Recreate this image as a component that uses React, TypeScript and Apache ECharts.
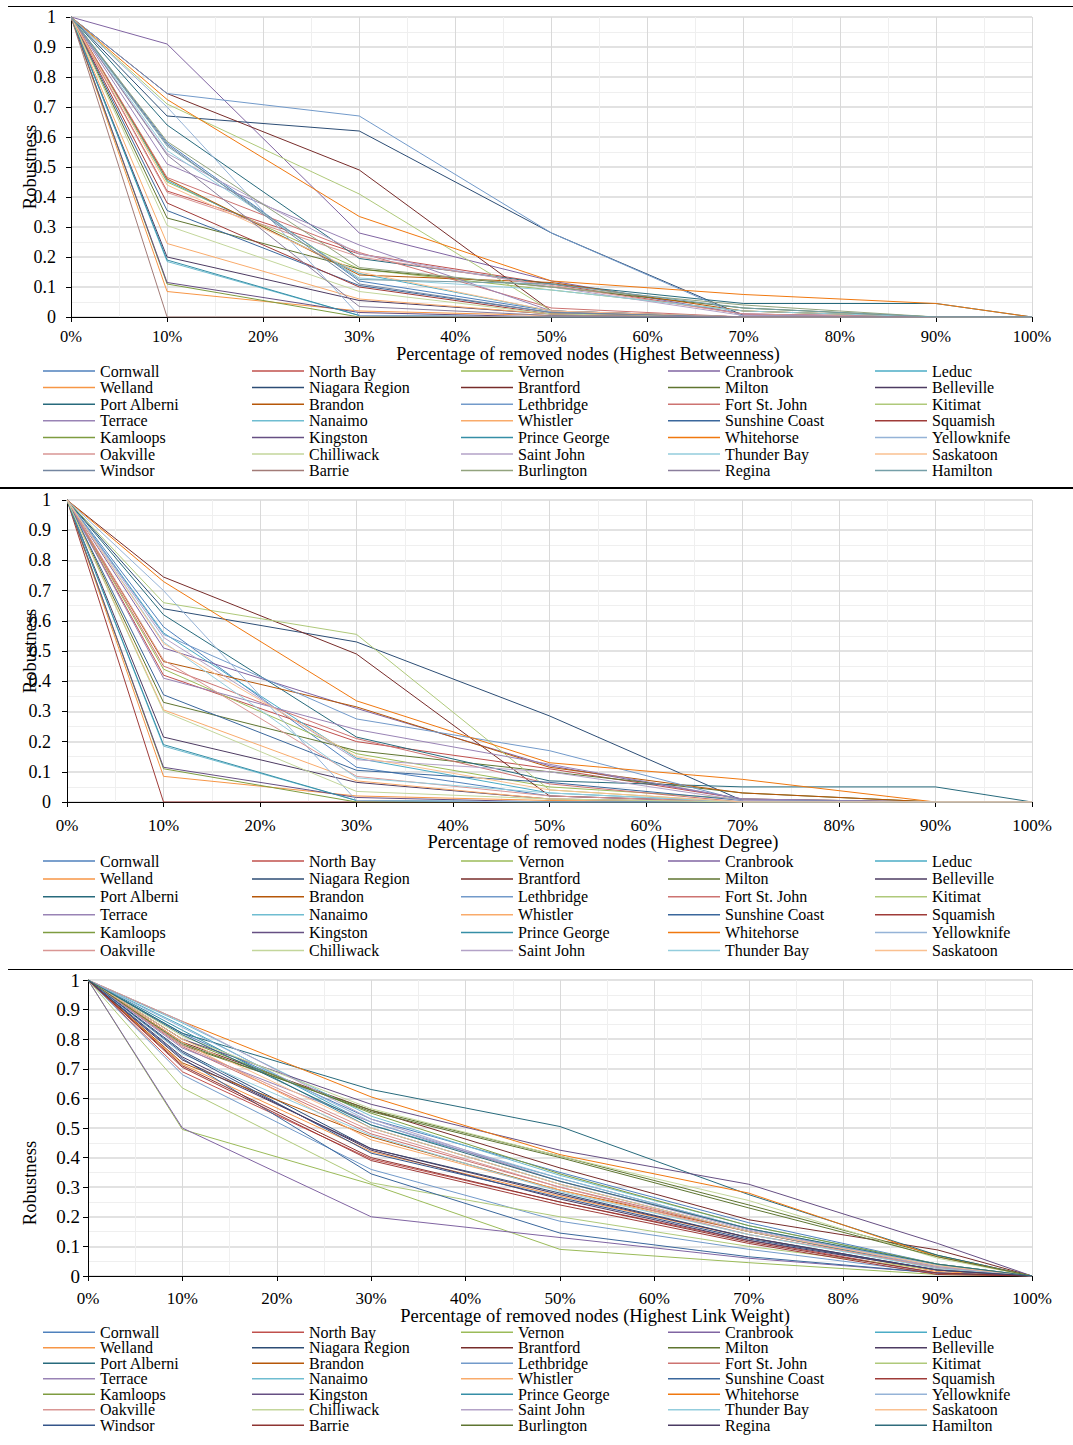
import React, { useEffect, useRef } from "react";
import * as echarts from "echarts";

// Share of nodes removed at each step (x axis, %)
const removedPct = [0, 10, 30, 50, 70, 90, 100];

const cities = [
  "Cornwall", "North Bay", "Vernon", "Cranbrook", "Leduc",
  "Welland", "Niagara Region", "Brantford", "Milton", "Belleville",
  "Port Alberni", "Brandon", "Lethbridge", "Fort St. John", "Kitimat",
  "Terrace", "Nanaimo", "Whistler", "Sunshine Coast", "Squamish",
  "Kamloops", "Kingston", "Prince George", "Whitehorse", "Yellowknife",
  "Oakville", "Chilliwack", "Saint John", "Thunder Bay", "Saskatoon",
  "Windsor", "Barrie", "Burlington", "Regina", "Hamilton",
];

// The degree-attack panel only covers the first 30 networks
const degreeCities = cities.slice(0, 30);

// Robustness after removing nodes by highest betweenness (one row per city)
const betweenness = [
  [1, 0.58, 0.12, 0.02, 0, 0, 0],
  [1, 0.42, 0.21, 0.11, 0.01, 0, 0],
  [1, 0.45, 0.16, 0.09, 0.02, 0, 0],
  [1, 0.91, 0.28, 0.12, 0.01, 0, 0],
  [1, 0.455, 0.145, 0.02, 0, 0, 0],
  [1, 0.085, 0.02, 0.005, 0, 0, 0],
  [1, 0.67, 0.62, 0.28, 0.005, 0, 0],
  [1, 0.745, 0.49, 0.02, 0, 0, 0],
  [1, 0.33, 0.16, 0.1, 0.03, 0, 0],
  [1, 0.2, 0.055, 0.01, 0, 0, 0],
  [1, 0.64, 0.195, 0.11, 0.045, 0.045, 0],
  [1, 0.46, 0.14, 0.115, 0.02, 0, 0],
  [1, 0.745, 0.67, 0.28, 0, 0, 0],
  [1, 0.465, 0.215, 0.03, 0, 0, 0],
  [1, 0.71, 0.41, 0.02, 0, 0, 0],
  [1, 0.51, 0.24, 0.02, 0, 0, 0],
  [1, 0.185, 0.005, 0, 0, 0, 0],
  [1, 0.245, 0.06, 0.01, 0, 0, 0],
  [1, 0.355, 0.105, 0.015, 0, 0, 0],
  [1, 0.38, 0.1, 0.01, 0, 0, 0],
  [1, 0.11, 0, 0, 0, 0, 0],
  [1, 0.115, 0.015, 0, 0, 0, 0],
  [1, 0.19, 0.005, 0, 0, 0, 0],
  [1, 0.725, 0.335, 0.12, 0.075, 0.045, 0],
  [1, 0.7, 0.005, 0, 0, 0, 0],
  [1, 0.415, 0.2, 0.105, 0.01, 0, 0],
  [1, 0.305, 0.085, 0.01, 0, 0, 0],
  [1, 0.545, 0.21, 0.1, 0.005, 0, 0],
  [1, 0.555, 0.13, 0.09, 0.02, 0, 0],
  [1, 0.44, 0.15, 0.02, 0, 0, 0],
  [1, 0.575, 0.11, 0.015, 0, 0, 0],
  [1, 0, 0, 0, 0, 0, 0],
  [1, 0.585, 0.165, 0.1, 0.04, 0, 0],
  [1, 0.54, 0.035, 0.005, 0, 0, 0],
  [1, 0.57, 0.125, 0.11, 0.03, 0, 0],
];

// Robustness after removing nodes by highest degree
const degree = [
  [1, 0.58, 0.115, 0.02, 0, 0, 0],
  [1, 0.42, 0.2, 0.11, 0.01, 0, 0],
  [1, 0.44, 0.16, 0.05, 0.01, 0, 0],
  [1, 0.51, 0.31, 0.12, 0.01, 0, 0],
  [1, 0.56, 0.145, 0.03, 0, 0, 0],
  [1, 0.085, 0.02, 0.005, 0, 0, 0],
  [1, 0.64, 0.53, 0.285, 0.005, 0, 0],
  [1, 0.745, 0.49, 0.02, 0, 0, 0],
  [1, 0.33, 0.17, 0.1, 0.03, 0, 0],
  [1, 0.215, 0.065, 0.01, 0, 0, 0],
  [1, 0.62, 0.215, 0.07, 0.05, 0.05, 0],
  [1, 0.465, 0.315, 0.115, 0.03, 0, 0],
  [1, 0.555, 0.275, 0.17, 0.005, 0, 0],
  [1, 0.45, 0.21, 0.06, 0, 0, 0],
  [1, 0.66, 0.555, 0.04, 0, 0, 0],
  [1, 0.41, 0.24, 0.125, 0.01, 0, 0],
  [1, 0.185, 0.005, 0, 0, 0, 0],
  [1, 0.305, 0.07, 0.01, 0, 0, 0],
  [1, 0.355, 0.105, 0.065, 0.005, 0, 0],
  [1, 0, 0, 0, 0, 0, 0],
  [1, 0.11, 0, 0, 0, 0, 0],
  [1, 0.115, 0.015, 0, 0, 0, 0],
  [1, 0.19, 0.005, 0, 0, 0, 0],
  [1, 0.73, 0.335, 0.13, 0.075, 0, 0],
  [1, 0.7, 0.005, 0, 0, 0, 0],
  [1, 0.47, 0.085, 0.02, 0, 0, 0],
  [1, 0.3, 0.035, 0.01, 0, 0, 0],
  [1, 0.545, 0.14, 0.1, 0.005, 0, 0],
  [1, 0.53, 0.08, 0.03, 0, 0, 0],
  [1, 0.525, 0.15, 0.04, 0, 0, 0],
];

// Robustness after removing nodes by highest link weight
const linkWeight = [
  [1, 0.82, 0.53, 0.35, 0.18, 0.04, 0],
  [1, 0.69, 0.395, 0.25, 0.12, 0.01, 0],
  [1, 0.495, 0.31, 0.09, 0.045, 0.005, 0],
  [1, 0.5, 0.2, 0.13, 0.06, 0.01, 0],
  [1, 0.845, 0.51, 0.33, 0.16, 0.035, 0],
  [1, 0.715, 0.42, 0.27, 0.13, 0.015, 0],
  [1, 0.76, 0.43, 0.28, 0.13, 0.02, 0],
  [1, 0.79, 0.56, 0.365, 0.19, 0.088, 0],
  [1, 0.78, 0.56, 0.405, 0.24, 0.07, 0],
  [1, 0.74, 0.425, 0.26, 0.12, 0.02, 0],
  [1, 0.82, 0.63, 0.505, 0.275, 0.07, 0],
  [1, 0.72, 0.47, 0.29, 0.15, 0.03, 0],
  [1, 0.68, 0.36, 0.185, 0.09, 0.01, 0],
  [1, 0.775, 0.48, 0.3, 0.15, 0.025, 0],
  [1, 0.635, 0.315, 0.2, 0.1, 0.02, 0],
  [1, 0.77, 0.52, 0.32, 0.16, 0.03, 0],
  [1, 0.855, 0.54, 0.34, 0.17, 0.04, 0],
  [1, 0.79, 0.46, 0.29, 0.14, 0.03, 0],
  [1, 0.735, 0.345, 0.145, 0.065, 0.01, 0],
  [1, 0.705, 0.39, 0.24, 0.11, 0.005, 0],
  [1, 0.8, 0.55, 0.345, 0.17, 0.04, 0],
  [1, 0.8, 0.58, 0.425, 0.31, 0.11, 0],
  [1, 0.83, 0.5, 0.31, 0.15, 0.03, 0],
  [1, 0.86, 0.605, 0.41, 0.28, 0.065, 0],
  [1, 0.84, 0.52, 0.33, 0.16, 0.035, 0],
  [1, 0.78, 0.49, 0.3, 0.14, 0.03, 0],
  [1, 0.81, 0.565, 0.405, 0.255, 0.06, 0],
  [1, 0.86, 0.53, 0.32, 0.155, 0.03, 0],
  [1, 0.75, 0.475, 0.285, 0.14, 0.025, 0],
  [1, 0.8, 0.5, 0.31, 0.15, 0.035, 0],
  [1, 0.755, 0.415, 0.265, 0.125, 0.02, 0],
  [1, 0.71, 0.4, 0.25, 0.115, 0.01, 0],
  [1, 0.785, 0.555, 0.4, 0.23, 0.065, 0],
  [1, 0.73, 0.43, 0.275, 0.13, 0.02, 0],
  [1, 0.815, 0.51, 0.32, 0.16, 0.04, 0],
];

// Office-style series palette: base hues, then shades and tints of them
const basePalette = [
  "#4F81BD", "#C0504D", "#9BBB59", "#8064A2", "#4BACC6",
  "#F79646", "#2C4D75", "#772C2A", "#5F7530", "#4D3B62",
  "#276A7C", "#B65708", "#729ACA", "#CD7371", "#AFC97A",
  "#9983B5", "#6FBDD1", "#F9AB6B", "#3A679C", "#9F3B38",
  "#7E9C40", "#664F83", "#358EA6", "#F0780F", "#95B3D7",
  "#D99694", "#C3D69B", "#B3A2C7", "#93CDDD", "#FAC090",
];
const mutedTail = ["#7486A0", "#A27B77", "#92A37E", "#8A7E9C", "#759FA8"];
const darkTail = ["#34558A", "#8E3432", "#5E7531", "#4A3B63", "#2F6C7C"];

const betweennessColors = [...basePalette, ...mutedTail];
const degreeColors = basePalette;
const linkWeightColors = [...basePalette, ...darkTail];

const FONT = '"Liberation Serif", "Times New Roman", serif';
const legendColumnsLeft = [43, 252, 461, 668, 875];

type Panel = {
  values: number[][];
  names: string[];
  colors: string[];
  grid: { left: number; top: number; width: number; height: number };
  xLabelMargin: number;
  xLabelSize: number;
  yLabelMargin: number;
  yLabelSize: number;
  xTitle: string;
  xTitleSize: number;
  xTitlePos: [number, number];
  yTitlePos: [number, number];
  legendTop: number;
  legendGap: number;
};

const panels: Panel[] = [
  {
    values: betweenness,
    names: cities,
    colors: betweennessColors,
    grid: { left: 71, top: 17, width: 961, height: 300 },
    xLabelMargin: 12,
    xLabelSize: 16.5,
    yLabelMargin: 15,
    yLabelSize: 18,
    xTitle: "Percentage of removed nodes (Highest Betweenness)",
    xTitleSize: 18,
    xTitlePos: [588, 353.5],
    yTitlePos: [30, 167],
    legendTop: 363,
    legendGap: 0.6,
  },
  {
    values: degree,
    names: degreeCities,
    colors: degreeColors,
    grid: { left: 67, top: 500, width: 965, height: 302 },
    xLabelMargin: 16,
    xLabelSize: 17,
    yLabelMargin: 16,
    yLabelSize: 18,
    xTitle: "Percentage of removed nodes (Highest Degree)",
    xTitleSize: 18.5,
    xTitlePos: [603, 842],
    yTitlePos: [30, 651],
    legendTop: 853,
    legendGap: 1.9,
  },
  {
    values: linkWeight,
    names: cities,
    colors: linkWeightColors,
    grid: { left: 88, top: 980, width: 944, height: 296 },
    xLabelMargin: 15,
    xLabelSize: 17,
    yLabelMargin: 8,
    yLabelSize: 19,
    xTitle: "Percentage of removed nodes (Highest Link Weight)",
    xTitleSize: 18.5,
    xTitlePos: [595, 1316],
    yTitlePos: [30, 1183],
    legendTop: 1324.3,
    legendGap: -0.5,
  },
];

function buildOption() {
  const grid: any[] = [];
  const xAxis: any[] = [];
  const yAxis: any[] = [];
  const series: any[] = [];
  const legend: any[] = [];
  const graphic: any[] = [];

  panels.forEach((p, gi) => {
    grid.push({ ...p.grid, containLabel: false });
    xAxis.push({
      gridIndex: gi,
      type: "value",
      min: 0,
      max: 100,
      interval: 10,
      axisLine: { show: true, onZero: false, lineStyle: { color: "#000", width: 1 } },
      axisTick: { show: true, length: 5, lineStyle: { color: "#000" } },
      axisLabel: {
        formatter: "{value}%",
        fontSize: p.xLabelSize,
        lineHeight: 14,
        color: "#000",
        fontFamily: FONT,
        margin: p.xLabelMargin,
      },
      splitLine: { show: true, lineStyle: { color: "#d9d9d9", width: 1 } },
      minorTick: { show: false, splitNumber: 2 },
      minorSplitLine: { show: true, lineStyle: { color: "#efefef", width: 1 } },
    });
    yAxis.push({
      gridIndex: gi,
      type: "value",
      min: 0,
      max: 1,
      interval: 0.1,
      axisLine: { show: true, lineStyle: { color: "#000", width: 1 } },
      axisTick: { show: true, length: 5, lineStyle: { color: "#000" } },
      axisLabel: {
        formatter: (v: number) => String(Math.round(v * 10) / 10),
        fontSize: p.yLabelSize,
        color: "#000",
        fontFamily: FONT,
        margin: p.yLabelMargin,
      },
      splitLine: { show: true, lineStyle: { color: "#d9d9d9", width: 1.5 } },
      minorTick: { show: false, splitNumber: 2 },
      minorSplitLine: { show: true, lineStyle: { color: "#efefef", width: 1 } },
    });

    p.names.forEach((name, i) => {
      series.push({
        type: "line",
        name,
        xAxisIndex: gi,
        yAxisIndex: gi,
        symbol: "none",
        silent: true,
        lineStyle: { width: 1, color: p.colors[i] },
        itemStyle: { color: p.colors[i] },
        data: removedPct.map((x, j) => [x, p.values[i][j]]),
      });
    });

    // Five legend columns per panel, filled row by row
    legendColumnsLeft.forEach((left, c) => {
      legend.push({
        orient: "vertical",
        left,
        top: p.legendTop,
        padding: 0,
        itemGap: p.legendGap,
        itemWidth: 52,
        itemHeight: 1.5,
        icon: "rect",
        selectedMode: false,
        textStyle: { fontFamily: FONT, fontSize: 16, color: "#000", lineHeight: 16 },
        data: p.names
          .map((name, i) => ({ name, i }))
          .filter((d) => d.i % 5 === c)
          .map((d) => ({
            name: d.name,
            icon: "rect",
            itemStyle: { color: p.colors[d.i], borderWidth: 0 },
          })),
      });
    });

    graphic.push({
      type: "text",
      x: p.xTitlePos[0],
      y: p.xTitlePos[1],
      silent: true,
      style: {
        text: p.xTitle,
        fill: "#000",
        font: `${p.xTitleSize}px ${FONT}`,
        lineHeight: 16,
        align: "center",
        verticalAlign: "middle",
        textAlign: "center",
        textVerticalAlign: "middle",
      },
    });
    graphic.push({
      type: "text",
      x: p.yTitlePos[0],
      y: p.yTitlePos[1],
      rotation: Math.PI / 2,
      silent: true,
      style: {
        text: "Robustness",
        fill: "#000",
        font: `18.5px ${FONT}`,
        align: "center",
        verticalAlign: "middle",
        textAlign: "center",
        textVerticalAlign: "middle",
      },
    });
  });

  // Rules separating the three panels
  graphic.push(
    { type: "line", silent: true, shape: { x1: 8, y1: 6.5, x2: 1073, y2: 6.5 }, style: { stroke: "#000", lineWidth: 1 } },
    { type: "line", silent: true, shape: { x1: 0, y1: 488, x2: 1073, y2: 488 }, style: { stroke: "#000", lineWidth: 2 } },
    { type: "line", silent: true, shape: { x1: 8, y1: 969.5, x2: 1073, y2: 969.5 }, style: { stroke: "#000", lineWidth: 1 } }
  );

  return {
    animation: false,
    backgroundColor: "#ffffff",
    textStyle: { fontFamily: FONT },
    grid,
    xAxis,
    yAxis,
    series,
    legend,
    graphic,
  };
}

export default function App() {
  const ref = useRef<HTMLDivElement>(null);

  useEffect(() => {
    if (!ref.current) return;
    const chart = echarts.init(ref.current, undefined, { renderer: "svg" });
    chart.setOption(buildOption());
    return () => chart.dispose();
  }, []);

  return (
    <div
      ref={ref}
      style={{ position: "absolute", left: 0, top: 0, width: 1073, height: 1445, background: "#fff" }}
    />
  );
}
